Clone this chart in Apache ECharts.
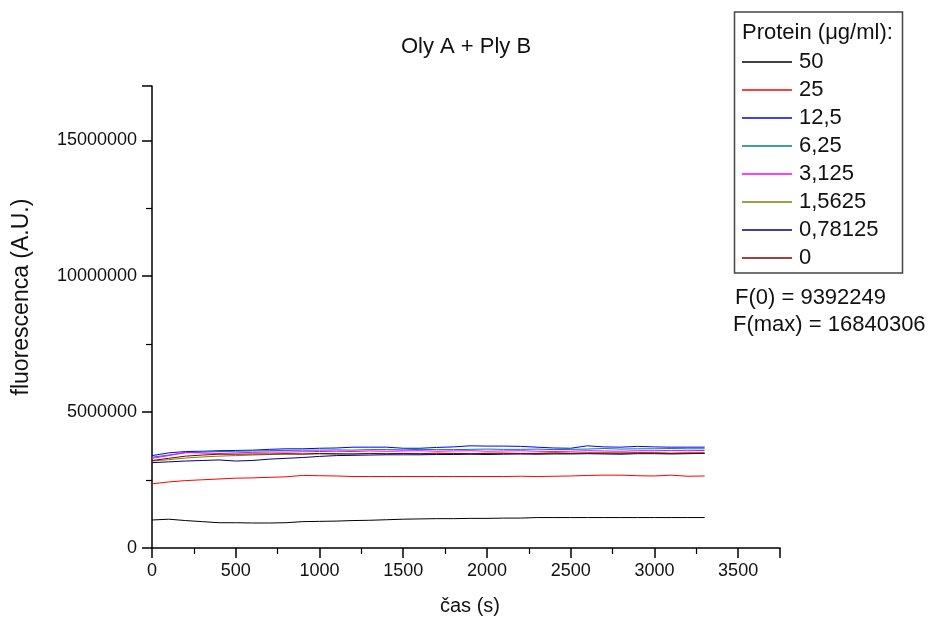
<!DOCTYPE html>
<html>
<head>
<meta charset="utf-8">
<script src="https://cdn.jsdelivr.net/npm/echarts@6/dist/echarts.min.js"></script>
<style>
html,body{margin:0;padding:0;background:#fff;}
#chart{width:932px;height:619px;}
</style>
</head>
<body>
<div id="chart"></div>
<script>
// time (s)
const times = [0,100,200,300,400,500,600,700,800,900,1000,1100,1200,1300,1400,1500,1600,1700,1800,1900,2000,2100,2200,2300,2400,2500,2600,2700,2800,2900,3000,3100,3200,3300];
const seriesNames = ['50','25','12,5','6,25','3,125','1,5625','0,78125','0'];
const seriesColors = ['#000000','#FF0000','#0000FF','#008080','#FF00FF','#808000','#000080','#800000'];
// fluorescence values in millions (A.U.)
const s50 = [1.03,1.06,1.01,0.97,0.93,0.93,0.92,0.92,0.93,0.97,0.98,0.99,1.01,1.02,1.04,1.06,1.07,1.08,1.08,1.09,1.09,1.10,1.10,1.12,1.12,1.12,1.12,1.12,1.12,1.12,1.12,1.12,1.12,1.12];
const s25 = [2.36,2.43,2.48,2.51,2.54,2.57,2.58,2.60,2.62,2.67,2.66,2.65,2.63,2.63,2.63,2.63,2.63,2.63,2.63,2.63,2.63,2.63,2.64,2.63,2.64,2.65,2.67,2.68,2.68,2.66,2.65,2.68,2.64,2.65];
const s12_5 = [3.40,3.50,3.55,3.56,3.58,3.59,3.60,3.63,3.65,3.65,3.67,3.68,3.71,3.71,3.71,3.67,3.67,3.70,3.72,3.76,3.75,3.75,3.74,3.71,3.68,3.67,3.76,3.72,3.71,3.74,3.72,3.71,3.71,3.71];
const s6_25 = [3.34,3.42,3.50,3.53,3.55,3.56,3.57,3.58,3.59,3.60,3.60,3.61,3.60,3.62,3.62,3.61,3.63,3.62,3.62,3.63,3.64,3.63,3.63,3.64,3.62,3.63,3.64,3.66,3.64,3.65,3.65,3.66,3.65,3.65];
const s3_125 = [3.30,3.40,3.52,3.49,3.48,3.50,3.52,3.53,3.53,3.54,3.55,3.56,3.55,3.57,3.56,3.57,3.58,3.56,3.57,3.58,3.56,3.57,3.58,3.56,3.55,3.56,3.58,3.57,3.56,3.58,3.58,3.59,3.58,3.59];
const s1_5625 = [3.20,3.25,3.31,3.35,3.38,3.40,3.42,3.44,3.45,3.45,3.46,3.45,3.46,3.47,3.46,3.48,3.46,3.47,3.48,3.47,3.49,3.48,3.47,3.48,3.50,3.49,3.48,3.50,3.49,3.50,3.51,3.49,3.50,3.50];
const s0_78125 = [3.14,3.17,3.20,3.22,3.24,3.20,3.22,3.27,3.30,3.33,3.37,3.40,3.41,3.42,3.43,3.43,3.43,3.44,3.44,3.45,3.44,3.45,3.46,3.45,3.46,3.46,3.47,3.46,3.45,3.47,3.47,3.46,3.47,3.48];
const s0 = [3.22,3.30,3.38,3.42,3.45,3.45,3.46,3.46,3.47,3.46,3.48,3.47,3.46,3.48,3.47,3.48,3.47,3.49,3.48,3.47,3.48,3.49,3.48,3.48,3.49,3.48,3.50,3.49,3.49,3.50,3.49,3.48,3.49,3.49];
const allValues = [s50,s25,s12_5,s6_25,s3_125,s1_5625,s0_78125,s0];
const UNIT = 1000000;
const xTicks = {min:0, max:3750, interval:500};
const yTicks = {min:0, max:17000000, interval:5000000};

const chart = echarts.init(document.getElementById('chart'), null, {renderer:'canvas'});
const font = 'Liberation Sans, Arial, sans-serif';
const series = seriesNames.map((n,i)=>({
  name:n, type:'line', symbol:'none', animation:false,
  lineStyle:{width:1, color:seriesColors[i]},
  itemStyle:{color:seriesColors[i]},
  data: times.map((t,j)=>[t, allValues[i][j]*UNIT])
}));
const axisCommon = {
  type:'value',
  axisLine:{show:true, onZero:false, lineStyle:{color:'#000', width:1.5}},
  axisTick:{show:true, inside:false, length:10, lineStyle:{color:'#000', width:1.5}},
  minorTick:{show:true, splitNumber:2, length:6, lineStyle:{color:'#000', width:1.2}},
  splitLine:{show:false}
};
chart.setOption({
  backgroundColor:'#fff',
  animation:false,
  title:{text:'Oly A + Ply B', left:'center', top:31, textStyle:{fontFamily:font, fontSize:22, fontWeight:'normal', color:'#111'}},
  grid:{left:152, right:152, top:86, bottom:71, containLabel:false, outerBoundsMode:'none'},
  legend:{
    orient:'vertical', left:742, top:51, padding:0,
    icon:'rect', itemWidth:50, itemHeight:1.5, itemGap:6,
    textStyle:{fontFamily:font, fontSize:22, lineHeight:22, color:'#111', padding:[0,0,0,2]},
    data: seriesNames
  },
  xAxis:Object.assign({}, axisCommon, {
    min:xTicks.min, max:xTicks.max, interval:xTicks.interval,
    name:'čas (s)', nameLocation:'middle', nameGap:48,
    nameTextStyle:{fontFamily:font, fontSize:20, color:'#111', padding:[0,0,0,8]},
    axisLabel:{fontFamily:font, fontSize:18, color:'#111', margin:14, showMaxLabel:false, formatter:v=>String(v)}
  }),
  yAxis:Object.assign({}, axisCommon, {
    min:yTicks.min, max:yTicks.max, interval:yTicks.interval,
    axisLabel:{fontFamily:font, fontSize:18, color:'#111', margin:15, showMaxLabel:false, formatter:v=>String(v)}
  }),
  graphic:[
    {type:'rect', shape:{x:734.5, y:12, width:168, height:261}, style:{fill:'none', stroke:'#444', lineWidth:1.5}, silent:true},
    {type:'text', x:742, y:33, style:{text:'Protein (\u03bcg/ml):', font:'22px '+font, fill:'#111', verticalAlign:'middle'}},
    {type:'text', x:735, y:298, style:{text:'F(0) = 9392249', font:'22px '+font, fill:'#111', verticalAlign:'middle'}},
    {type:'text', x:733, y:325, style:{text:'F(max) = 16840306', font:'22px '+font, fill:'#111', verticalAlign:'middle'}},
    {type:'text', x:22, y:297, rotation:Math.PI/2, style:{text:'fluorescenca (A.U.)', font:'23px '+font, fill:'#111', align:'center', verticalAlign:'middle'}}
  ],
  series: series
});
</script>
</body>
</html>
